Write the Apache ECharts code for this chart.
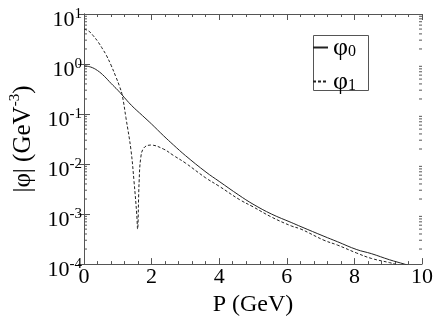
<!DOCTYPE html>
<html>
<head>
<meta charset="utf-8">
<script src="https://cdn.jsdelivr.net/npm/echarts@6/dist/echarts.min.js"></script>
<style>
  html, body { margin: 0; padding: 0; background: #ffffff; }
  #chart { width: 436px; height: 322px; }
</style>
</head>
<body>
<div id="chart"></div>
<script>
// momentum grid (GeV) and |phi| values (GeV^-3)
const p0 = [0, 0.2, 0.4, 0.6, 0.8, 1.0, 1.13, 1.4, 1.73, 2.0, 2.35, 2.65, 3.0, 3.61, 4.0, 4.58, 5.0, 5.55, 6.13, 6.42, 7.1, 7.5, 8.07, 8.5, 9.04, 9.48, 10];
const phi0 = [0.92, 0.87, 0.74, 0.57, 0.41, 0.30, 0.24, 0.15, 0.093, 0.063, 0.037, 0.024, 0.0148, 0.0069, 0.0045, 0.0024, 0.00158, 0.001, 0.00068, 0.00056, 0.00036, 0.00028, 0.000195, 0.000162, 0.000122, 0.0001, 0.000078];

const p1 = [0, 0.15, 0.27, 0.42, 0.55, 0.66, 0.8, 0.95, 1.05, 1.13, 1.24, 1.39, 1.48, 1.56, 1.585, 1.63, 1.68, 1.77, 1.97, 2.35, 2.65, 3.0, 3.6, 4.0, 4.6, 5.0, 5.55, 6.13, 6.42, 7.1, 7.5, 8.07, 8.5, 9.04, 9.2, 10];
const phi1 = [5.0, 4.5, 3.7, 2.75, 2.0, 1.5, 0.95, 0.54, 0.36, 0.24, 0.085, 0.019, 0.0045, 0.001, 0.0005, 0.0043, 0.0135, 0.021, 0.024, 0.020, 0.0148, 0.0105, 0.0053, 0.0036, 0.00195, 0.0014, 0.00087, 0.00058, 0.0005, 0.0003, 0.00024, 0.000166, 0.00013, 0.000107, 0.0001, 0.00007];

const seriesNames = ['φ0', 'φ1'];
const decades = [-4, -3, -2, -1, 0];
const minorSteps = [2, 3, 4, 5, 6, 7, 8, 9];

const serif = 'Liberation Serif';
const frameColor = '#555555';
const curveColor = '#222222';

let minorVals = [];
decades.forEach(d => minorSteps.forEach(m => minorVals.push([5, m * Math.pow(10, d)])));

const chart = echarts.init(document.getElementById('chart'));

const tickStyle = { lineStyle: { color: frameColor, width: 1 } };

const option = {
  animation: false,
  grid: { left: 79, right: 13, top: 14, bottom: 47 },
  legend: {
    data: seriesNames,
    orient: 'vertical',
    left: 312,
    top: 35,
    itemWidth: 15,
    itemHeight: 10,
    itemGap: 8,
    padding: 0,
    itemStyle: { color: 'transparent', borderWidth: 0 },
    formatter: n => '{g|φ}{s|' + n.slice(1) + '}',
    textStyle: {
      fontFamily: serif,
      color: '#000',
      rich: {
        g: { fontFamily: serif, fontSize: 26, lineHeight: 25, verticalAlign: 'top', color: '#000' },
        s: { fontFamily: serif, fontSize: 16, lineHeight: 16, verticalAlign: 'bottom', color: '#000' }
      }
    }
  },
  graphic: [{
    type: 'rect',
    left: 311, top: 33,
    shape: { width: 55, height: 55 },
    style: { fill: 'none', stroke: frameColor, lineWidth: 1 },
    silent: true
  }],
  xAxis: [{
    type: 'value', min: 0, max: 10, interval: 2,
    name: 'P (GeV)', nameLocation: 'middle', nameGap: 20,
    nameTextStyle: { fontFamily: serif, fontSize: 24, color: '#000' },
    axisLine: { show: true, lineStyle: { color: frameColor } },
    axisTick: { inside: true, length: 6, ...tickStyle },
    minorTick: { show: true, splitNumber: 5, length: 3, ...tickStyle },
    axisLabel: { fontFamily: serif, fontSize: 22, color: '#000', margin: 2 },
    splitLine: { show: false }
  }, {
    type: 'value', min: 0, max: 10, interval: 2, position: 'top',
    axisLine: { show: true, lineStyle: { color: frameColor } },
    axisTick: { inside: true, length: 6, ...tickStyle },
    minorTick: { show: true, splitNumber: 5, length: 3, ...tickStyle },
    axisLabel: { show: false },
    splitLine: { show: false }
  }],
  yAxis: [{
    type: 'log', logBase: 10, min: 1e-4, max: 10, splitNumber: 5,
    name: '{n||φ| (GeV}{e|-3}{n|)}', nameLocation: 'middle', nameGap: 48, nameRotate: 90,
    nameTextStyle: {
      rich: {
        n: { fontFamily: serif, fontSize: 25, lineHeight: 28, verticalAlign: 'bottom', color: '#000' },
        e: { fontFamily: serif, fontSize: 15, lineHeight: 28, verticalAlign: 'top', color: '#000' }
      }
    },
    axisLine: { show: true, lineStyle: { color: frameColor } },
    axisTick: { inside: true, length: 6, ...tickStyle },
    axisLabel: {
      margin: 2,
      padding: [10, 0, 0, 0],
      formatter: v => '{b|10}{e|' + Math.round(Math.log10(v)) + '}',
      rich: {
        b: { fontFamily: serif, fontSize: 22, lineHeight: 25, verticalAlign: 'bottom', color: '#000' },
        e: { fontFamily: serif, fontSize: 15, lineHeight: 25, verticalAlign: 'top', color: '#000' }
      }
    },
    splitLine: { show: false }
  }, {
    type: 'log', logBase: 10, min: 1e-4, max: 10, splitNumber: 5, position: 'right',
    axisLine: { show: true, lineStyle: { color: frameColor } },
    axisTick: { inside: true, length: 6, ...tickStyle },
    axisLabel: { show: false },
    splitLine: { show: false }
  }],
  series: [{
    name: seriesNames[0], type: 'line',
    data: p0.map((p, i) => [p, phi0[i]]),
    symbol: 'none', smooth: 0.4,
    lineStyle: { color: curveColor, width: 1 },
    itemStyle: { color: curveColor }
  }, {
    name: seriesNames[1], type: 'line',
    data: p1.map((p, i) => [p, phi1[i]]),
    symbol: 'none', smooth: 0.4,
    lineStyle: { color: curveColor, width: 1, type: [3, 2] },
    itemStyle: { color: curveColor }
  }, {
    // log-spaced minor ticks on left and right frame
    type: 'custom', silent: true,
    data: minorVals,
    encode: { x: 0, y: 1 },
    renderItem: (params, api) => {
      const v = api.value(1);
      const l = api.coord([0, v]);
      const r = api.coord([10, v]);
      return {
        type: 'group',
        children: [
          { type: 'line', shape: { x1: l[0], y1: l[1], x2: l[0] + 3, y2: l[1] }, style: { stroke: frameColor, lineWidth: 1 } },
          { type: 'line', shape: { x1: r[0] - 3, y1: r[1], x2: r[0], y2: r[1] }, style: { stroke: frameColor, lineWidth: 1 } }
        ]
      };
    }
  }]
};

chart.setOption(option);
</script>
</body>
</html>
